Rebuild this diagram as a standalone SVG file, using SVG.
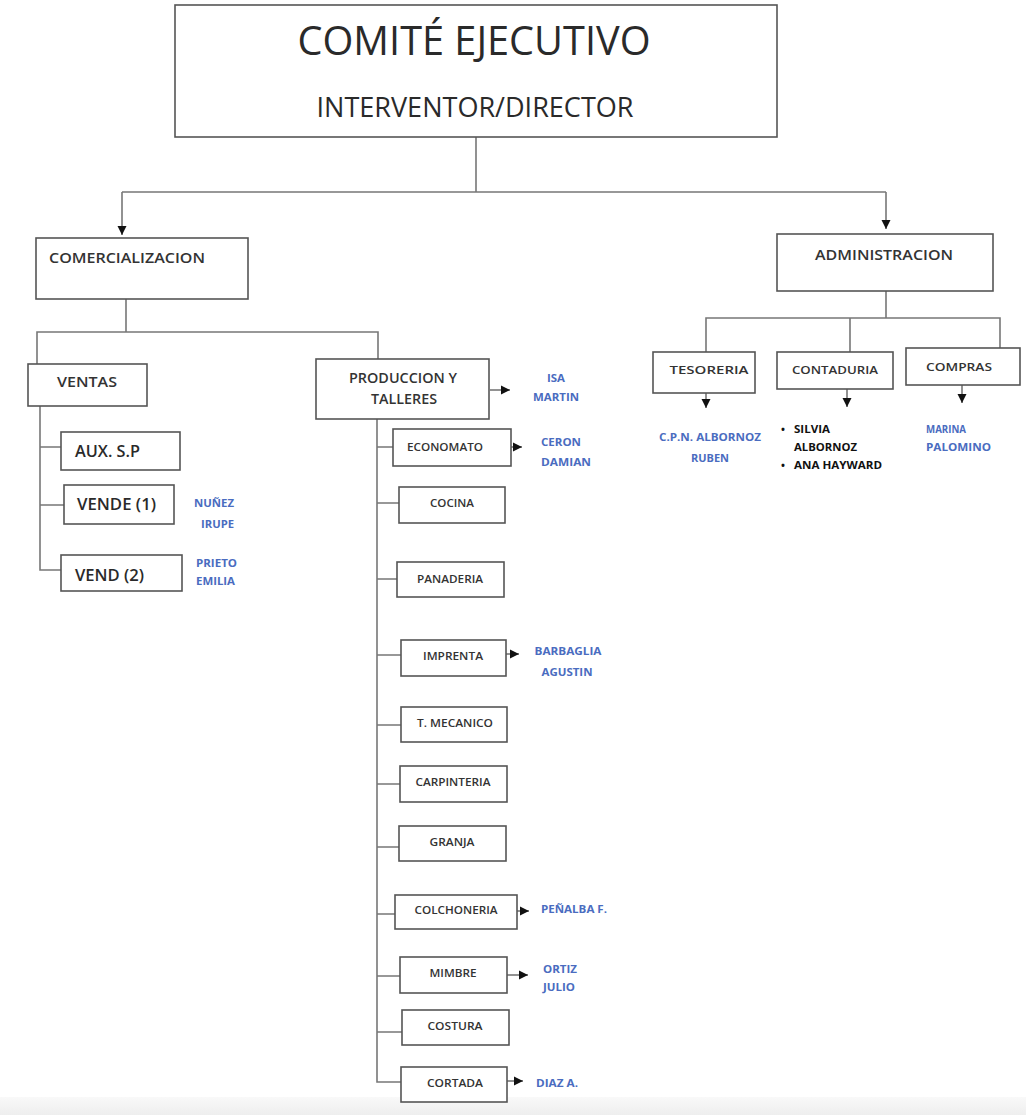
<svg xmlns="http://www.w3.org/2000/svg" width="1026" height="1115" viewBox="0 0 1026 1115">
<defs>
<marker id="arr" markerUnits="userSpaceOnUse" markerWidth="10" markerHeight="10" refX="9" refY="5" orient="auto">
<path d="M0,0.5 L9,5 L0,9.5 z" fill="#111"/>
</marker>
<linearGradient id="band" x1="0" y1="0" x2="0" y2="1">
<stop offset="0" stop-color="#f9f9f9"/>
<stop offset="1" stop-color="#eeeeee"/>
</linearGradient>
<style>
.box{fill:#fff;stroke:#555;stroke-width:1.6}
.ln{fill:none;stroke:#777;stroke-width:1.6}
.t{font-family:"Open Sans","Liberation Sans",sans-serif;fill:#2a2a2a}
.s{font-size:11px;text-anchor:middle;fill:#333;font-weight:600}
.m{font-size:14px;font-weight:600;fill:#333}
.w{font-weight:600;fill:#2a2a2a}
.b{font-family:"Open Sans","Liberation Sans",sans-serif;font-size:10.5px;font-weight:700;fill:#4a6cc0}
.k{font-family:"Open Sans","Liberation Sans",sans-serif;font-size:10.5px;font-weight:700;fill:#111}
</style>
</defs>
<rect x="0" y="0" width="1026" height="1115" fill="#fff"/>
<rect x="0" y="1097" width="1026" height="18" fill="url(#band)"/>

<g id="connectors">
<path class="ln" d="M476,137 V192 M122,192 H886"/>
<path class="ln" d="M122,192 V235" marker-end="url(#arr)"/>
<path class="ln" d="M886,192 V229" marker-end="url(#arr)"/>
<path class="ln" d="M126,299 V332 M37,364 V332 H378 V359"/>
<path class="ln" d="M40,406 V570 H61 M40,447 H61 M40,505 H64"/>
<path class="ln" d="M377,419 V1082 H401 M377,447 H393 M377,503 H399 M377,579 H397 M377,655 H401 M377,725 H401 M377,784 H400 M377,847 H399 M377,914 H395 M377,976 H400 M377,1032 H402"/>
<path class="ln" d="M490,390 H510" marker-end="url(#arr)"/>
<path class="ln" d="M511,447 H522" marker-end="url(#arr)"/>
<path class="ln" d="M506,654 H519" marker-end="url(#arr)"/>
<path class="ln" d="M517,911 H529" marker-end="url(#arr)"/>
<path class="ln" d="M507,975 H528" marker-end="url(#arr)"/>
<path class="ln" d="M507,1081 H523" marker-end="url(#arr)"/>
<path class="ln" d="M886,291 V318 M706,352 V318 H1000 V348 M850,318 V352"/>
<path class="ln" d="M706,393 V408" marker-end="url(#arr)"/>
<path class="ln" d="M847,389 V407" marker-end="url(#arr)"/>
<path class="ln" d="M962,385 V403" marker-end="url(#arr)"/>
</g>

<g id="comite">
<rect class="box" x="175" y="5" width="602" height="132"/>
<text class="t" x="474" y="55" font-size="41" text-anchor="middle" textLength="353" lengthAdjust="spacingAndGlyphs">COMITÉ EJECUTIVO</text>
<text class="t" x="475" y="117" font-size="28" text-anchor="middle" textLength="317" lengthAdjust="spacingAndGlyphs">INTERVENTOR/DIRECTOR</text>
</g>

<g id="comercializacion">
<rect class="box" x="36" y="238" width="212" height="61"/>
<text class="t m" x="49" y="263" textLength="156" lengthAdjust="spacingAndGlyphs">COMERCIALIZACION</text>
</g>

<g id="administracion">
<rect class="box" x="777" y="234" width="216" height="57"/>
<text class="t m" x="884" y="260" text-anchor="middle" textLength="138" lengthAdjust="spacingAndGlyphs">ADMINISTRACION</text>
</g>

<g id="ventas">
<rect class="box" x="28" y="364" width="119" height="42"/>
<text class="t m" x="87" y="387" text-anchor="middle" textLength="60" lengthAdjust="spacingAndGlyphs">VENTAS</text>
</g>

<g id="aux-sp">
<rect class="box" x="61" y="432" width="119" height="38"/>
<text class="t w" x="75" y="457" font-size="16" textLength="65" lengthAdjust="spacingAndGlyphs">AUX. S.P</text>
</g>

<g id="vende1">
<rect class="box" x="64" y="485" width="110" height="39"/>
<text class="t w" x="77" y="510" font-size="16" textLength="79" lengthAdjust="spacingAndGlyphs">VENDE (1)</text>
<text class="b" x="234" y="507" text-anchor="end" textLength="40" lengthAdjust="spacingAndGlyphs">NUÑEZ</text>
<text class="b" x="234" y="528" text-anchor="end" textLength="33" lengthAdjust="spacingAndGlyphs">IRUPE</text>
</g>

<g id="vend2">
<rect class="box" x="61" y="555" width="121" height="36"/>
<text class="t w" x="75" y="581" font-size="16" textLength="69" lengthAdjust="spacingAndGlyphs">VEND (2)</text>
<text class="b" x="196" y="567" textLength="41" lengthAdjust="spacingAndGlyphs">PRIETO</text>
<text class="b" x="196" y="585" textLength="39" lengthAdjust="spacingAndGlyphs">EMILIA</text>
</g>

<g id="produccion">
<rect class="box" x="316" y="359" width="173" height="60"/>
<text class="t m" x="403" y="383" text-anchor="middle" textLength="108" lengthAdjust="spacingAndGlyphs">PRODUCCION Y</text>
<text class="t m" x="404" y="404" text-anchor="middle" textLength="66" lengthAdjust="spacingAndGlyphs">TALLERES</text>
<text class="b" x="556" y="382" text-anchor="middle" textLength="18" lengthAdjust="spacingAndGlyphs">ISA</text>
<text class="b" x="556" y="401" text-anchor="middle" textLength="46" lengthAdjust="spacingAndGlyphs">MARTIN</text>
</g>

<g id="economato">
<rect class="box" x="393" y="429" width="118" height="37"/>
<text class="t s" x="445" y="451" textLength="76" lengthAdjust="spacingAndGlyphs">ECONOMATO</text>
<text class="b" x="561" y="446" text-anchor="middle" textLength="40" lengthAdjust="spacingAndGlyphs">CERON</text>
<text class="b" x="566" y="466" text-anchor="middle" textLength="50" lengthAdjust="spacingAndGlyphs">DAMIAN</text>
</g>

<g id="cocina">
<rect class="box" x="399" y="487" width="106" height="36"/>
<text class="t s" x="452" y="507" textLength="44" lengthAdjust="spacingAndGlyphs">COCINA</text>
</g>

<g id="panaderia">
<rect class="box" x="397" y="562" width="107" height="35"/>
<text class="t s" x="450" y="583" textLength="66" lengthAdjust="spacingAndGlyphs">PANADERIA</text>
</g>

<g id="imprenta">
<rect class="box" x="401" y="640" width="105" height="36"/>
<text class="t s" x="453" y="660" textLength="60" lengthAdjust="spacingAndGlyphs">IMPRENTA</text>
<text class="b" x="568" y="655" text-anchor="middle" textLength="67" lengthAdjust="spacingAndGlyphs">BARBAGLIA</text>
<text class="b" x="567" y="676" text-anchor="middle" textLength="51" lengthAdjust="spacingAndGlyphs">AGUSTIN</text>
</g>

<g id="t-mecanico">
<rect class="box" x="401" y="707" width="106" height="35"/>
<text class="t s" x="455" y="727" textLength="76" lengthAdjust="spacingAndGlyphs">T. MECANICO</text>
</g>

<g id="carpinteria">
<rect class="box" x="400" y="766" width="107" height="36"/>
<text class="t s" x="453" y="786" textLength="75" lengthAdjust="spacingAndGlyphs">CARPINTERIA</text>
</g>

<g id="granja">
<rect class="box" x="399" y="826" width="107" height="35"/>
<text class="t s" x="452" y="846" textLength="45" lengthAdjust="spacingAndGlyphs">GRANJA</text>
</g>

<g id="colchoneria">
<rect class="box" x="395" y="895" width="122" height="34"/>
<text class="t s" x="456" y="914" textLength="83" lengthAdjust="spacingAndGlyphs">COLCHONERIA</text>
<text class="b" x="541" y="913" textLength="66" lengthAdjust="spacingAndGlyphs">PEÑALBA F.</text>
</g>

<g id="mimbre">
<rect class="box" x="400" y="957" width="107" height="36"/>
<text class="t s" x="453" y="977" textLength="47" lengthAdjust="spacingAndGlyphs">MIMBRE</text>
<text class="b" x="543" y="973" textLength="34" lengthAdjust="spacingAndGlyphs">ORTIZ</text>
<text class="b" x="543" y="991" textLength="32" lengthAdjust="spacingAndGlyphs">JULIO</text>
</g>

<g id="costura">
<rect class="box" x="402" y="1010" width="107" height="35"/>
<text class="t s" x="455" y="1030" textLength="55" lengthAdjust="spacingAndGlyphs">COSTURA</text>
</g>

<g id="cortada">
<rect class="box" x="401" y="1067" width="106" height="35"/>
<text class="t s" x="455" y="1087" textLength="56" lengthAdjust="spacingAndGlyphs">CORTADA</text>
<text class="b" x="536" y="1087" textLength="42" lengthAdjust="spacingAndGlyphs">DIAZ A.</text>
</g>

<g id="tesoreria">
<rect class="box" x="653" y="352" width="102" height="41"/>
<text class="t s" x="709" y="374" textLength="79" lengthAdjust="spacingAndGlyphs">TESORERIA</text>
<text class="b" x="710" y="441" text-anchor="middle" textLength="102" lengthAdjust="spacingAndGlyphs">C.P.N. ALBORNOZ</text>
<text class="b" x="710" y="462" text-anchor="middle" textLength="38" lengthAdjust="spacingAndGlyphs">RUBEN</text>
</g>

<g id="contaduria">
<rect class="box" x="777" y="352" width="116" height="37"/>
<text class="t s" x="835" y="374" textLength="86" lengthAdjust="spacingAndGlyphs">CONTADURIA</text>
<text class="k" x="781" y="433">•</text>
<text class="k" x="794" y="433" textLength="36" lengthAdjust="spacingAndGlyphs">SILVIA</text>
<text class="k" x="794" y="451" textLength="63" lengthAdjust="spacingAndGlyphs">ALBORNOZ</text>
<text class="k" x="781" y="469">•</text>
<text class="k" x="794" y="469" textLength="88" lengthAdjust="spacingAndGlyphs">ANA HAYWARD</text>
</g>

<g id="compras">
<rect class="box" x="906" y="348" width="114" height="37"/>
<text class="t s" x="959" y="371" textLength="66" lengthAdjust="spacingAndGlyphs">COMPRAS</text>
<text class="b" x="926" y="433" textLength="40" lengthAdjust="spacingAndGlyphs">MARINA</text>
<text class="b" x="926" y="451" textLength="65" lengthAdjust="spacingAndGlyphs">PALOMINO</text>
</g>
</svg>
